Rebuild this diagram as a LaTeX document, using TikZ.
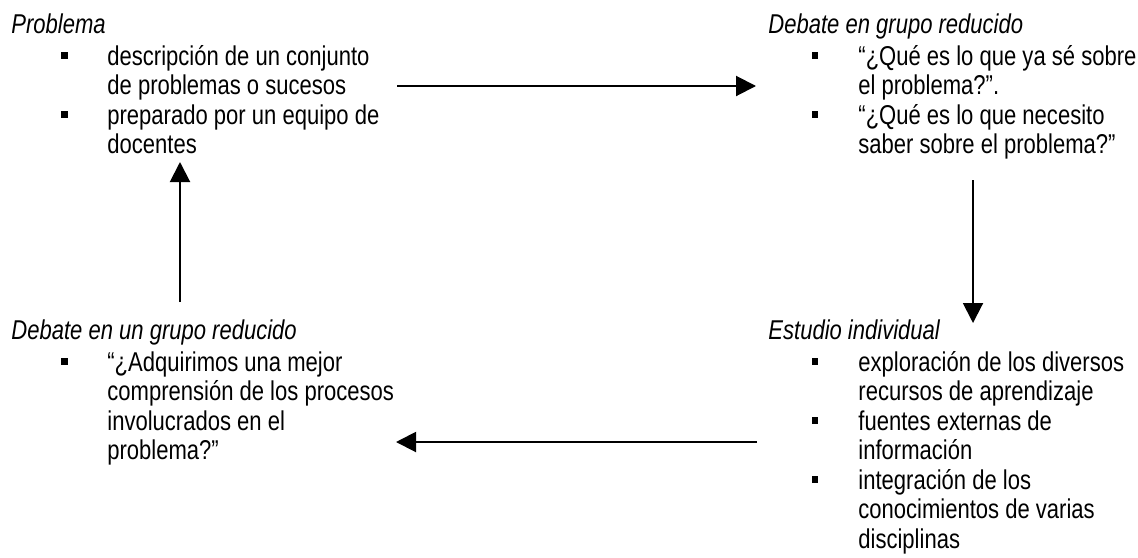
\documentclass[tikz,border=0pt]{standalone}
\usepackage{fontspec}
\setmainfont{Liberation Sans}[FakeStretch=0.81]
\usetikzlibrary{arrows.meta}

\begin{document}
\begin{tikzpicture}[x=0.5pt, y=-0.5pt,
        titulo/.style={anchor=base west, inner sep=0pt, font=\fontsize{13.6}{15}\selectfont\itshape},
        linea/.style={anchor=base west, inner sep=0pt, font=\fontsize{13.6}{15}\selectfont},
        vineta/.style={fill=black, inner sep=0pt, minimum size=3.4pt},
        flecha/.style={line width=1pt, -{Triangle[length=10pt, width=10pt]}}]
        \useasboundingbox (0,0) rectangle (1138,557);
        % problema
        \node[titulo] (probT) at (11,33) {Problema};
        \foreach \txt [count=\i] in {descripción de un conjunto, de problemas o sucesos, preparado por un equipo de, docentes}
        \node[linea] (prob\i) at (107,{35.5+29.5*\i}) {\txt};
        % debate en grupo reducido
        \node[titulo] (debT) at (768,33) {Debate en grupo reducido};
        \foreach \txt [count=\i] in {“¿Qué es lo que ya sé sobre, el problema?”., “¿Qué es lo que necesito, saber sobre el problema?”}
        \node[linea] (deb\i) at (858,{35.5+29.5*\i}) {\txt};
        % estudio individual
        \node[titulo] (estT) at (768,339) {Estudio individual};
        \foreach \txt [count=\i] in {exploración de los diversos, recursos de aprendizaje, fuentes externas de, información, integración de los, conocimientos de varias, disciplinas}
        \node[linea] (est\i) at (858,{341.5+29.5*\i}) {\txt};
        % debate final
        \node[titulo] (finT) at (11,339) {Debate en un grupo reducido};
        \foreach \txt [count=\i] in {“¿Adquirimos una mejor, comprensión de los procesos, involucrados en el, problema?”}
        \node[linea] (fin\i) at (107,{341.5+29.5*\i}) {\txt};
        % vinetas
        \foreach \x/\y [count=\i] in {64.5/55.5, 64.5/114.5, 815/55.5, 815/114.5, 64.5/361.5, 815/361.5, 815/420.5, 815/479.5}
        \node[vineta] (v\i) at (\x,\y) {};
        % flechas
        \coordinate (a1) at (397,86);
        \coordinate (a2) at (756,86);
        \coordinate (b1) at (973,180);
        \coordinate (b2) at (973,323);
        \coordinate (c1) at (757,442);
        \coordinate (c2) at (396,442);
        \coordinate (d1) at (180,302);
        \coordinate (d2) at (180,162);
        \draw[flecha] (a1) -- (a2);
        \draw[flecha] (b1) -- (b2);
        \draw[flecha] (c1) -- (c2);
        \draw[flecha] (d1) -- (d2);
\end{tikzpicture}
\end{document}
